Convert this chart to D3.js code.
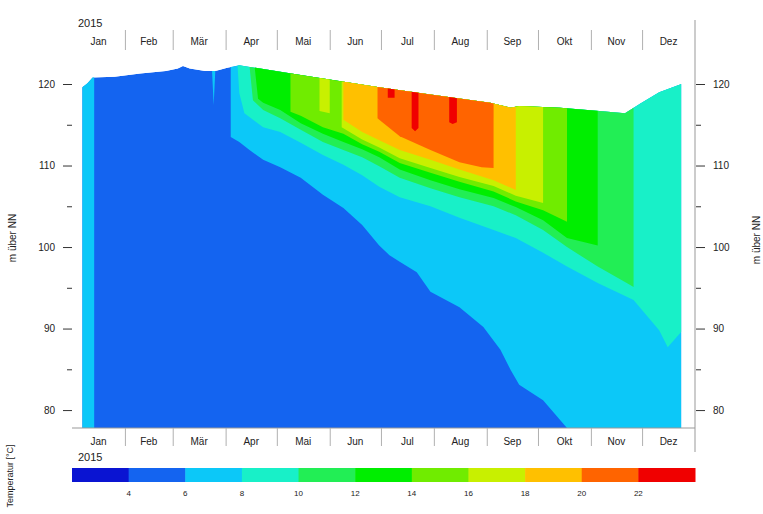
<!DOCTYPE html>
<html>
<head>
<meta charset="utf-8">
<script src="https://cdn.jsdelivr.net/npm/d3@7"></script>
<style>
  body { margin: 0; background: #fff; }
  text { font-family: "Liberation Sans", Arial, sans-serif; fill: #222; }
</style>
</head>
<body>
<svg id="chart" width="763" height="514"></svg>
<script>
// month labels (German)
const months = ['Jan', 'Feb', 'Mär', 'Apr', 'Mai', 'Jun', 'Jul', 'Aug', 'Sep', 'Okt', 'Nov', 'Dez'];

// temperature class breaks [°C] and class colours (11 classes)
const tempBreaks = [4, 6, 8, 10, 12, 14, 16, 18, 20, 22];
const classColors = ['#0a14d2', '#1464f0', '#0cc8f8', '#18f0c8', '#22ee55', '#00ee00',
                     '#70ec00', '#c8f000', '#ffc000', '#ff6400', '#f00000'];

// water surface [day of year 2015, m über NN]
const surfaceLevel = [[6, 119.6], [9, 120.1], [12, 120.8], [25, 120.9], [40, 121.3], [55, 121.6],
  [62, 121.9], [65, 122.2], [69, 121.9], [78, 121.6], [84, 121.6], [91, 122.0], [98, 122.3],
  [134, 121.1], [180, 119.6], [210, 118.7], [245, 117.7], [257, 117.1], [262, 117.3],
  [286, 117.1], [309, 116.7], [324, 116.4], [333, 117.6], [344, 119.0], [357, 120.0]];

// isotherms: [day of year, elevation]; water above the line is warmer than the threshold
const iso6 = [[6, 77], [13, 77], null,
  [82, 121.8], [83, 117.4], [84, 121.8], null,
  [93, 113.5], [98, 112.9], [104, 111.9], [112, 110.7], [122, 109.8], [134, 108.5], [147, 106.4],
  [159, 104.8], [170, 102.7], [180, 100.2], [186, 99.0], [192, 98.2], [202, 96.9], [210, 94.5],
  [227, 92.6], [241, 90.2], [251, 87.4], [257, 84.9], [262, 83.1], [276, 81.2], [290, 77.8],
  [291, 77], [357, 77]];
const iso8 = [[97, 122.2], [98, 118.9], [101, 116.4], [112, 114.7], [122, 114.1], [134, 112.8],
  [147, 111.3], [159, 110.1], [170, 108.8], [180, 107.4], [192, 106.1], [210, 105.0], [227, 103.6],
  [247, 102.1], [260, 101.1], [276, 99.3], [290, 97.6], [308, 95.6], [329, 93.5], [344, 89.8],
  [349, 87.7], [357, 89.6]];
const iso10 = [[104, 122.2], [106, 118.0], [112, 116.8], [122, 115.8], [134, 114.4], [147, 112.9],
  [159, 111.9], [170, 111.0], [180, 109.9], [192, 108.5], [210, 107.2], [227, 106.1], [247, 105.0],
  [260, 103.9], [276, 102.1], [290, 100.0], [308, 97.6], [325, 95.6], [329, 95.1]];
const iso12 = [[107, 122.1], [109, 118.2], [112, 117.7], [122, 116.8], [134, 115.2], [147, 113.9],
  [159, 112.9], [170, 112.0], [180, 111.0], [192, 109.5], [210, 108.2], [227, 107.1], [247, 106.0],
  [260, 104.9], [276, 103.3], [290, 101.1], [308, 100.2]];
const iso14 = [[128, 116.6], [134, 116.1], [147, 114.7], [159, 113.9], [170, 112.6], [180, 111.7],
  [192, 110.3], [210, 109.1], [227, 108.0], [247, 106.8], [260, 105.6], [276, 104.5], [290, 103.1]];
const iso16 = [[145, 116.7], [151, 116.4], null,
  [158, 114.7], [170, 113.2], [180, 112.2], [192, 110.9], [210, 109.7], [227, 108.6], [247, 107.5],
  [260, 106.3], [276, 105.4]];
const iso18 = [[159, 115.6], [170, 114.1], [180, 113.1], [192, 111.9], [210, 110.7], [227, 109.5],
  [247, 108.2], [260, 107.0]];
const iso20 = [[179, 115.8], [180, 115.6], [192, 113.6], [210, 111.9], [227, 110.4], [240, 109.8],
  [247, 109.7]];
const iso22 = [[185, 118.3], [189, 118.3], null,
  [199, 114.6], [201, 114.2], [203, 114.6], null,
  [221, 115.3], [223, 115.1], [225.5, 115.3]];

const isotherms = [
  { t: 6, pts: iso6 }, { t: 8, pts: iso8 }, { t: 10, pts: iso10 }, { t: 12, pts: iso12 },
  { t: 14, pts: iso14 }, { t: 16, pts: iso16 }, { t: 18, pts: iso18 }, { t: 20, pts: iso20 },
  { t: 22, pts: iso22 }
];

const svg = d3.select('#chart');

const t0 = Date.UTC(2015, 0, 1);
const t1 = Date.UTC(2016, 0, 1);
const day = d => new Date(t0 + d * 864e5);

const x = d3.scaleUtc().domain([new Date(t0), new Date(t1)]).range([72, 695]);
const y = d3.scaleLinear().domain([77.8, 120]).range([428, 84]);
const bottomLevel = 77.8;
const aboveLevel = 126;

// water body
const water = d3.area()
  .x(d => x(day(d[0])))
  .y0(y(bottomLevel))
  .y1(d => y(d[1]));

svg.append('defs').append('clipPath').attr('id', 'water')
  .append('path').datum(surfaceLevel).attr('d', water);

const field = svg.append('g').attr('clip-path', 'url(#water)');

field.append('path')
  .datum(surfaceLevel)
  .attr('fill', classColors[1])
  .attr('d', water);

const warmer = d3.area()
  .defined(d => d !== null)
  .x(d => x(day(d[0])))
  .y0(d => y(d[1]))
  .y1(y(aboveLevel));

isotherms.forEach(iso => {
  field.append('path')
    .datum(iso.pts)
    .attr('fill', classColors[tempBreaks.indexOf(iso.t) + 1])
    .attr('d', warmer);
});

// frame lines
svg.append('line')
  .attr('x1', 695).attr('x2', 695).attr('y1', 20).attr('y2', 452)
  .attr('stroke', '#999');
svg.append('line')
  .attr('x1', 72).attr('x2', 695).attr('y1', 428).attr('y2', 428)
  .attr('stroke', '#999');

// month separators, top and bottom
const monthStarts = d3.utcMonth.range(new Date(Date.UTC(2015, 1, 1)), new Date(Date.UTC(2015, 11, 2)));

svg.append('g')
  .attr('transform', 'translate(0,50)')
  .call(d3.axisTop(x).tickValues(monthStarts).tickSize(20).tickFormat(''))
  .call(g => g.select('.domain').remove())
  .call(g => g.selectAll('line').attr('stroke', '#b0b0b0'));

svg.append('g')
  .attr('transform', 'translate(0,428)')
  .call(d3.axisBottom(x).tickValues(monthStarts).tickSize(18).tickFormat(''))
  .call(g => g.select('.domain').remove())
  .call(g => g.selectAll('line').attr('stroke', '#b0b0b0'));

const monthMid = d3.utcMonth.range(new Date(t0), new Date(t1))
  .map((m, i) => ({ label: months[i], x: (x(m) + x(d3.utcMonth.offset(m, 1))) / 2 }));

[45, 445].forEach(yy => {
  svg.append('g').selectAll('text')
    .data(monthMid)
    .join('text')
    .attr('x', d => d.x)
    .attr('y', yy)
    .attr('text-anchor', 'middle')
    .attr('font-size', 10)
    .text(d => d.label);
});

svg.append('text').attr('x', 78).attr('y', 27).attr('font-size', 11).text('2015');
svg.append('text').attr('x', 78).attr('y', 461).attr('font-size', 11).text('2015');

// y axes
const styleAxis = g => {
  g.select('.domain').remove();
  g.selectAll('line').attr('stroke', '#333');
  g.selectAll('text').attr('font-size', 10).attr('font-family', '"Liberation Sans", Arial, sans-serif');
};

svg.append('g').attr('transform', 'translate(72,0)')
  .call(d3.axisLeft(y).tickValues([80, 90, 100, 110, 120]).tickSize(9).tickPadding(8))
  .call(styleAxis);
svg.append('g').attr('transform', 'translate(72,0)')
  .call(d3.axisLeft(y).tickValues([85, 95, 105, 115]).tickSize(5).tickFormat(''))
  .call(styleAxis);

svg.append('g').attr('transform', 'translate(696,0)')
  .call(d3.axisRight(y).tickValues([80, 90, 100, 110, 120]).tickSize(9).tickPadding(8))
  .call(styleAxis);
svg.append('g').attr('transform', 'translate(696,0)')
  .call(d3.axisRight(y).tickValues([85, 95, 105, 115]).tickSize(5).tickFormat(''))
  .call(styleAxis);

svg.append('text')
  .attr('transform', 'translate(16,238) rotate(-90)')
  .attr('text-anchor', 'middle')
  .attr('font-size', 10)
  .text('m über NN');
svg.append('text')
  .attr('transform', 'translate(760,240) rotate(-90)')
  .attr('text-anchor', 'middle')
  .attr('font-size', 10)
  .text('m über NN');

// colour bar
const cb = d3.scaleBand().domain(d3.range(classColors.length)).range([72, 695]);

svg.append('g').selectAll('rect')
  .data(classColors)
  .join('rect')
  .attr('x', (d, i) => cb(i))
  .attr('y', 468)
  .attr('width', cb.bandwidth() + 0.5)
  .attr('height', 14)
  .attr('fill', d => d);

svg.append('g').selectAll('text')
  .data(tempBreaks)
  .join('text')
  .attr('x', (d, i) => cb(i + 1))
  .attr('y', 496)
  .attr('text-anchor', 'middle')
  .attr('font-size', 8)
  .attr('fill', '#444')
  .text(d => d);

svg.append('text')
  .attr('transform', 'translate(13,476) rotate(-90)')
  .attr('text-anchor', 'middle')
  .attr('font-size', 9)
  .text('Temperatur [°C]');
</script>
</body>
</html>
